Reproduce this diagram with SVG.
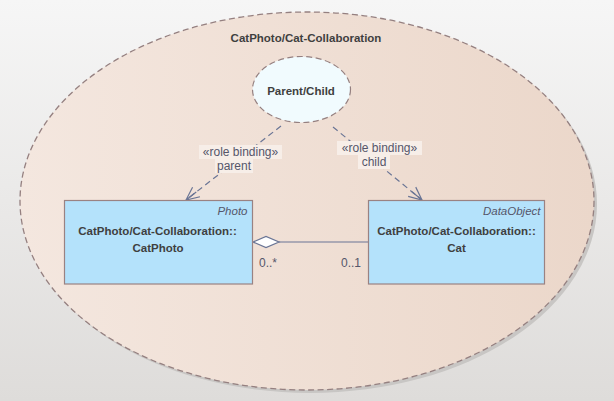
<svg xmlns="http://www.w3.org/2000/svg" width="614" height="401" viewBox="0 0 614 401">
<defs>
<linearGradient id="bg" x1="0" y1="0" x2="0" y2="1">
<stop offset="0" stop-color="#f6f6f6"/>
<stop offset="1" stop-color="#dedcda"/>
</linearGradient>
<linearGradient id="coll" x1="0" y1="0" x2="1" y2="0">
<stop offset="0" stop-color="#f4e7df"/>
<stop offset="1" stop-color="#ebd7ca"/>
</linearGradient>
<marker id="open" markerUnits="userSpaceOnUse" markerWidth="30" markerHeight="30" refX="0" refY="0" viewBox="-15 -15 30 30" orient="auto" overflow="visible">
<path d="M-13,-6 L0,0 L-13,6 M-13,0 L0,0" fill="none" stroke="#6a7595" stroke-width="1.2" stroke-dasharray="none"/>
</marker>
<style>
.t{font-family:"Liberation Sans",Arial,sans-serif;fill:#3f3f3f}
.b{font-weight:bold;font-size:11.5px}
.lab{font-size:12px;fill:#55566a}
.st{font-size:11.5px;font-style:italic;fill:#55566a}
.cls{fill:#b4e2fb;stroke:#9a8282;stroke-width:1.2}
.con{fill:none;stroke:#6a7595;stroke-width:1.2}
.dash{stroke-dasharray:6,4}
.lbg{fill:#f7eee8}
</style>
</defs>
<rect x="0" y="0" width="614" height="401" fill="url(#bg)"/>
<g id="collaboration">
<ellipse cx="310" cy="204" rx="287" ry="189" fill="#c8c6c4"/>
<ellipse cx="307" cy="201" rx="287" ry="189" fill="url(#coll)" stroke="#958080" stroke-width="1.3" stroke-dasharray="6,3.5"/>
<text class="t b" x="306" y="42" text-anchor="middle">CatPhoto/Cat-Collaboration</text>
</g>
<g id="parent-child">
<ellipse cx="301.5" cy="89.5" rx="49" ry="33" fill="#f1fbfe" stroke="#958080" stroke-width="1.2" stroke-dasharray="6,3.5"/>
<text class="t b" x="301" y="95" text-anchor="middle">Parent/Child</text>
</g>
<g id="connectors">
<path class="con dash" d="M281,126 L186,200" marker-end="url(#open)"/>
<path class="con dash" d="M333,127 L422,200" marker-end="url(#open)"/>
<path class="con" d="M279,242 L368,242"/>
<path d="M253,242 L266,236.5 L279,242 L266,247.5 Z" fill="#ffffff" stroke="#6a7595" stroke-width="1.2"/>
<rect class="lbg" x="199" y="145" width="83" height="14"/>
<rect class="lbg" x="215" y="159" width="38" height="14"/>
<rect class="lbg" x="337" y="141" width="85" height="14"/>
<rect class="lbg" x="358" y="155" width="32" height="14"/>
<text class="t lab" x="240.5" y="156" text-anchor="middle">«role binding»</text>
<text class="t lab" x="234" y="170" text-anchor="middle">parent</text>
<text class="t lab" x="379.5" y="152" text-anchor="middle">«role binding»</text>
<text class="t lab" x="374" y="166" text-anchor="middle">child</text>
<text class="t lab" x="259" y="267" font-size="11.5">0..*</text>
<text class="t lab" x="361" y="267" text-anchor="end" font-size="11.5">0..1</text>
</g>
<g id="catphoto">
<rect class="cls" x="64.5" y="200.5" width="188" height="83.5"/>
<text class="t st" x="247.5" y="215" text-anchor="end">Photo</text>
<text class="t b" x="157.5" y="235" text-anchor="middle">CatPhoto/Cat-Collaboration::</text>
<text class="t b" x="158" y="252" text-anchor="middle">CatPhoto</text>
</g>
<g id="cat">
<rect class="cls" x="368.5" y="200.5" width="176" height="83.5"/>
<text class="t st" x="540.5" y="215" text-anchor="end">DataObject</text>
<text class="t b" x="456.5" y="235" text-anchor="middle">CatPhoto/Cat-Collaboration::</text>
<text class="t b" x="456.5" y="252" text-anchor="middle">Cat</text>
</g>
</svg>
